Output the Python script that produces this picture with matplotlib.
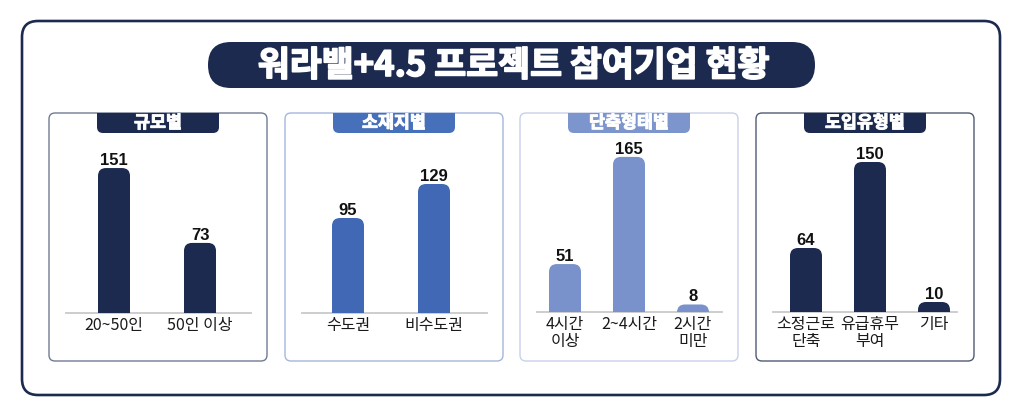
import matplotlib
matplotlib.use("Agg")
import matplotlib.pyplot as plt
import matplotlib.patheffects as pe
from matplotlib.patches import FancyBboxPatch

plt.rcParams['font.family'] = ['Noto Sans CJK KR', 'DejaVu Sans']

# 데이터
title = '워라밸+4.5 프로젝트 참여기업 현황'
panel_titles = ['규모별', '소재지별', '단축형태별', '도입유형별']

size_labels = ['20~50인', '50인 이상']
size_values = [151, 73]

region_labels = ['수도권', '비수도권']
region_values = [95, 129]

hours_labels = ['4시간\n이상', '2~4시간', '2시간\n미만']
hours_values = [51, 165, 8]

type_labels = ['소정근로\n단축', '유급휴무\n부여', '기타']
type_values = [64, 150, 10]

# 스타일 / 배치
W, H = 1023, 416
NAVY = '#1c2a50'
bar_colors = [NAVY, '#4068b4', '#7a92cb', NAVY]
tab_colors = [NAVY, '#4670ba', '#7d95cd', NAVY]
border_colors = ['#6f7a94', '#a4b6de', '#c7d1ea', '#505a74']
panel_x = [49, 285, 520, 756]
panel_w = 218
panel_top, panel_bot = 113, 361
axes_px = [(66, 251), (302, 487), (537, 722), (773, 957)]
first_bar = [114, 348, 565, 806]
spacing = [86, 86, 64, 64]
scale = [0.96, 1.0, 0.94, 1.0]   # px per unit
base_y = [313, 313, 312, 312]
ax_top = 140
bar_px = 32
r_px = 8

fig = plt.figure(figsize=(W / 100, H / 100), dpi=100)

bg = fig.add_axes([0, 0, 1, 1])
bg.set_xlim(0, W)
bg.set_ylim(H, 0)
bg.axis('off')

# 바깥 테두리
bg.add_patch(FancyBboxPatch((22, 21), 978, 374, boxstyle='round,pad=0,rounding_size=16',
                            fc='white', ec=NAVY, lw=1.9))
# 제목
bg.add_patch(FancyBboxPatch((208, 42), 607, 46, boxstyle='round,pad=0,rounding_size=23',
                            fc=NAVY, ec='none'))
bg.text(514, 65.5, title, color='white', fontsize=25, fontweight='bold',
        ha='center', va='center',
        path_effects=[pe.withStroke(linewidth=1.2, foreground='white')])

for i in range(4):
    x0 = panel_x[i]
    panel = FancyBboxPatch((x0, panel_top), panel_w, panel_bot - panel_top,
                           boxstyle='round,pad=0,rounding_size=6',
                           fc='white', ec=border_colors[i], lw=1.0, zorder=2)
    bg.add_patch(panel)
    cx = x0 + panel_w / 2
    tab = FancyBboxPatch((cx - 61, panel_top - 12), 122, 32,
                         boxstyle='round,pad=0,rounding_size=6',
                         fc=tab_colors[i], ec='none', zorder=3)
    bg.add_patch(tab)
    tab.set_clip_path(panel)
    bg.text(cx, 123, panel_titles[i], color='white', fontsize=12.5, fontweight='bold',
            ha='center', va='center', zorder=4,
            path_effects=[pe.withStroke(linewidth=0.7, foreground='white')])

panels = [(size_labels, size_values), (region_labels, region_values),
          (hours_labels, hours_values), (type_labels, type_values)]

for i, (labels, values) in enumerate(panels):
    x0, x1 = axes_px[i]
    ax = fig.add_axes([x0 / W, 1 - base_y[i] / H, (x1 - x0) / W, (base_y[i] - ax_top) / H])
    ax.set_facecolor('none')
    sp = spacing[i]
    left = (first_bar[i] - x0) / sp
    ax.set_xlim(-left, (x1 - x0) / sp - left)
    ax.set_ylim(0, (base_y[i] - ax_top) / scale[i])
    xs = list(range(len(values)))
    w = bar_px / sp
    bars = ax.bar(xs, values, width=w, color=bar_colors[i])
    rx = r_px / sp
    ry = r_px / scale[i]
    for rect in bars:
        rect.set_visible(False)
        ax.add_patch(FancyBboxPatch((rect.get_x(), -1.3 * ry), rect.get_width(),
                                    rect.get_height() + 1.3 * ry,
                                    boxstyle=f'round,pad=0,rounding_size={rx}',
                                    mutation_aspect=ry / rx,
                                    fc=bar_colors[i], ec='none', zorder=2))
        ax.annotate(f'{int(rect.get_height())}', (rect.get_x() + rect.get_width() / 2, rect.get_height()),
                    xytext=(0, 0), textcoords='offset points', ha='center', va='bottom',
                    fontsize=12, fontweight='bold', color='#111111',
                    family=['Liberation Sans', 'DejaVu Sans'], annotation_clip=False)
    ax.set_xticks(xs, labels, fontsize=11.5, color='#1a1a1a', linespacing=0.95)
    ax.tick_params(axis='x', length=0, pad=3)
    ax.set_yticks([])
    for s in ['top', 'left', 'right']:
        ax.spines[s].set_visible(False)
    ax.spines['bottom'].set_color('#c9c9c9')
    ax.spines['bottom'].set_linewidth(1.3)
    ax.spines['bottom'].set_zorder(1)

fig.savefig('out.png', dpi=100)
